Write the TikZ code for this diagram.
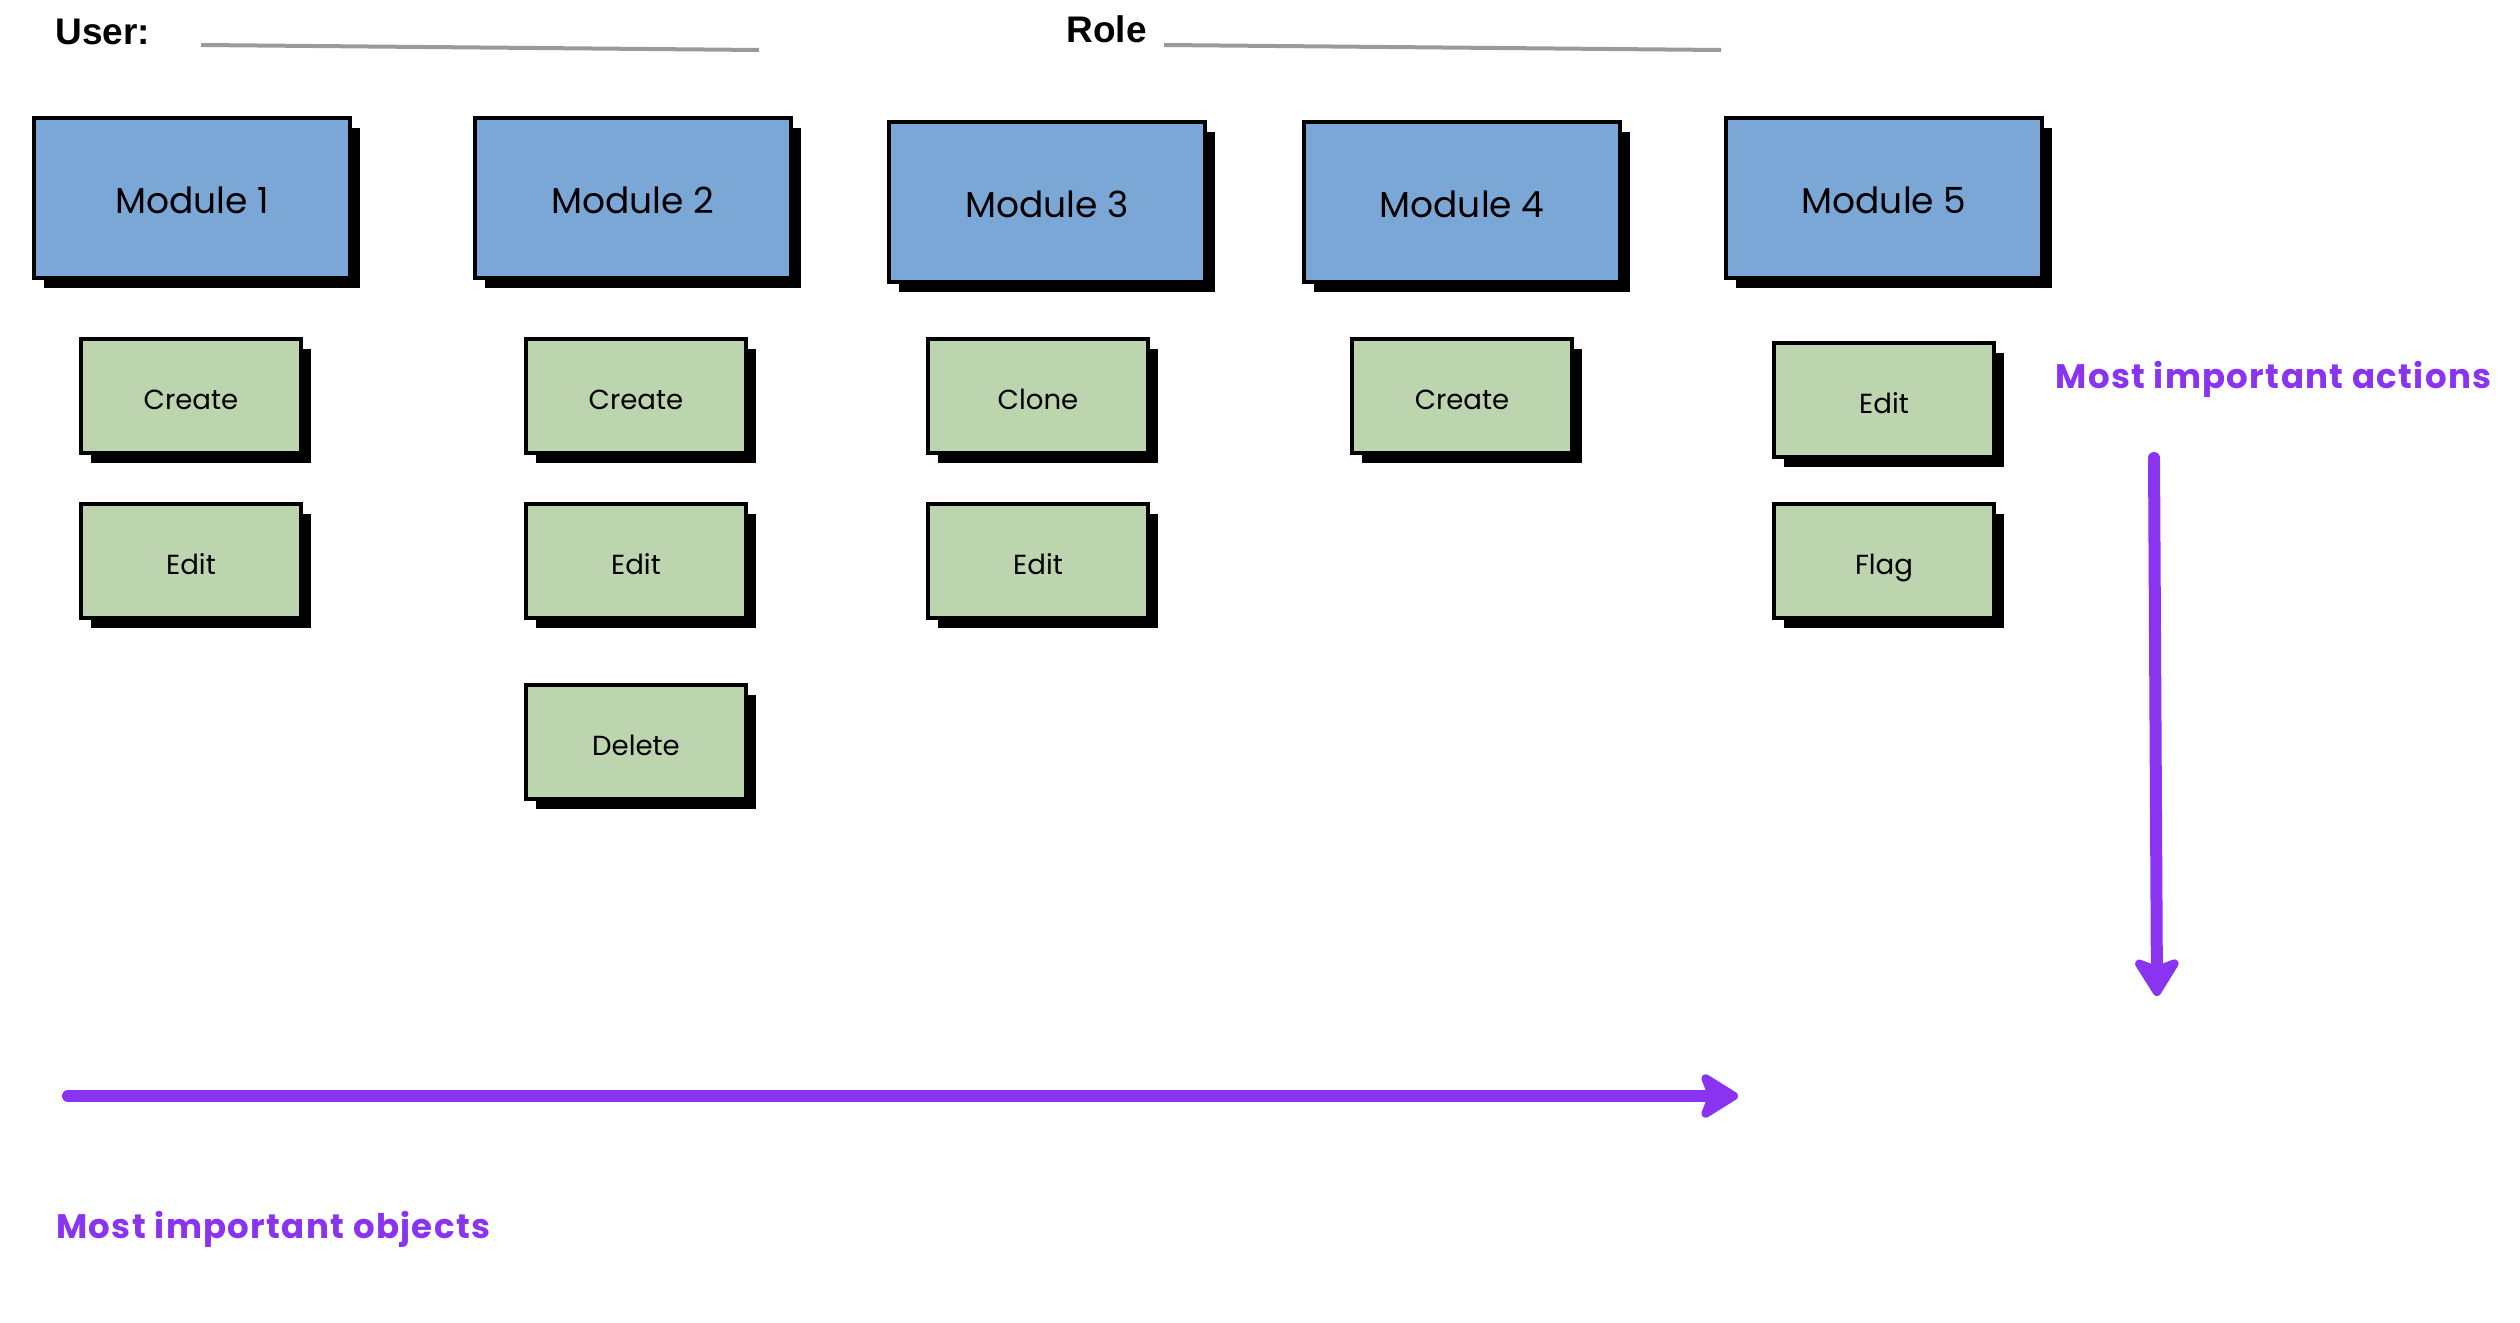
\documentclass[tikz,border=0pt]{standalone}
\usepackage{fontspec}
\setmainfont{Poppins}
\newfontfamily\headfont{Liberation Sans}
\newfontfamily\notefont[LetterSpace=4]{Poppins}
\usetikzlibrary{shadows,arrows.meta}
\definecolor{modblue}{HTML}{7BA7D7}
\definecolor{actgreen}{HTML}{BCD5AE}
\definecolor{imppurple}{HTML}{8A33F0}
\definecolor{linegray}{HTML}{9A9A9A}
\begin{document}
\begin{tikzpicture}[x=0.5pt,y=-0.5pt,
  boxbase/.style={draw=black, line width=2pt, inner sep=0pt, text depth=0pt,
    general shadow={fill=black, shadow xshift=5pt, shadow yshift=-5pt}},
  modbox/.style={boxbase, fill=modblue, minimum width=158pt, minimum height=80pt,
    text height=15.6pt, font=\fontsize{18}{21}\selectfont},
  actbox/.style={boxbase, fill=actgreen, minimum width=110pt, minimum height=57pt,
    text height=13.7pt, font=\fontsize{13.8}{16}\selectfont},
  headlabel/.style={inner sep=0pt, anchor=base west, font=\headfont\bfseries\fontsize{18.5}{22}\selectfont},
  notelabel/.style={inner sep=0pt, anchor=base west, text=imppurple, font=\notefont\bfseries\fontsize{17}{20}\selectfont},
  blankline/.style={draw=linegray, line width=2pt},
  imparrow/.style={draw=imppurple, line width=6pt, line cap=round,
    -{Stealth[length=22pt, width=27pt, inset=5pt, round]}}
]
\useasboundingbox (0,0) rectangle (2520,1322);

% header
\node[headlabel] (user) at (55,45) {User:};
\coordinate (userA) at (201,45);
\coordinate (userB) at (759,50);
\draw[blankline] (userA) -- (userB);
\node[headlabel] (role) at (1066,43) {Role};
\coordinate (roleA) at (1164,45);
\coordinate (roleB) at (1721,50);
\draw[blankline] (roleA) -- (roleB);

% modules
\node[modbox] (m1) at (192,198) {Module 1};
\node[modbox] (m2) at (633,198) {Module 2};
\node[modbox] (m3) at (1047,202) {Module 3};
\node[modbox] (m4) at (1462,202) {Module 4};
\node[modbox] (m5) at (1884,198) {Module 5};

% actions
\node[actbox] (c1a) at (191,396) {Create};
\node[actbox] (c1b) at (191,561) {Edit};
\node[actbox] (c2a) at (636,396) {Create};
\node[actbox] (c2b) at (636,561) {Edit};
\node[actbox] (c2c) at (636,742) {Delete};
\node[actbox] (c3a) at (1038,396) {Clone};
\node[actbox] (c3b) at (1038,561) {Edit};
\node[actbox] (c4a) at (1462,396) {Create};
\node[actbox] (c5a) at (1884,400) {Edit};
\node[actbox] (c5b) at (1884,561) {Flag};

% notes and arrows
\node[notelabel] (actions) at (2055,388) {Most important actions};
\node[notelabel] (objects) at (56,1238) {Most important objects};
\coordinate (vs) at (2154,458);
\coordinate (ve) at (2157,996);
\draw[imparrow] (vs) -- (ve);
\coordinate (hs) at (68,1096);
\coordinate (he) at (1738,1096);
\draw[imparrow] (hs) -- (he);
\end{tikzpicture}
\end{document}
